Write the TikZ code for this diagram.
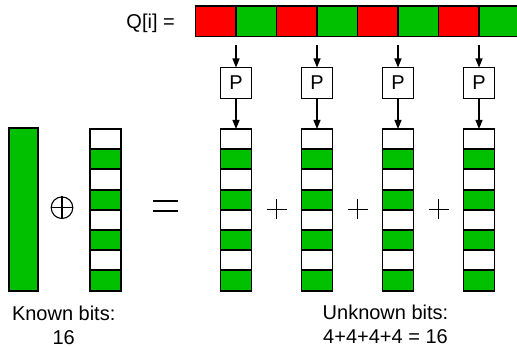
\documentclass[tikz,border=0pt]{standalone}
\usepackage{fontspec}
\setmainfont{Liberation Sans}
\usetikzlibrary{arrows.meta}
\definecolor{bitgreen}{RGB}{0,192,0}
\definecolor{bitred}{RGB}{255,0,0}
\begin{document}
\begin{tikzpicture}[x=1pt,y=-1pt,
 cell/.style={draw, line width=1.9pt, minimum width=31pt, minimum height=20.2pt, inner sep=0pt, outer sep=0pt},
 qcell/.style={draw, line width=1.9pt, minimum width=40.5pt, minimum height=30.5pt, inner sep=0pt, outer sep=0pt},
 pbox/.style={draw, line width=1.5pt, minimum size=31pt, inner sep=0pt, outer sep=0pt, font=\fontsize{20}{24}\selectfont},
 arr/.style={-{Triangle[length=9pt,width=7pt]}, line width=1.2pt},
 lbl/.style={font=\fontsize{20}{24}\selectfont, inner sep=0pt, align=center},
 op/.style={line width=1.1pt}]
\useasboundingbox (0,0) rectangle (517,347);
% Q[i] bar
\foreach \i/\c in {1/bitred,2/bitgreen,3/bitred,4/bitgreen,5/bitred,6/bitgreen,7/bitred,8/bitgreen}{
  \node[qcell, fill=\c] (q\i) at ({195.5+40.5*(\i-0.5)},21.25) {};
}
\node[lbl, anchor=base east] (qlabel) at (175,29) {Q[i] =};
% known bits bar
\node[draw, line width=1.7pt, fill=bitgreen, minimum width=29.6pt, minimum height=162.7pt, inner sep=0pt] (kb) at (23.5,209.7) {};
% left column
\foreach \j in {1,...,8}{
  \ifodd\j \def\cc{white}\else \def\cc{bitgreen}\fi
  \node[cell, fill=\cc] (m-\j) at (105.2,{129+20.2*(\j-0.5)}) {};
}
% right columns, P boxes, arrows
\foreach \k/\q in {1/1,2/3,3/5,4/7}{
  \foreach \j in {1,...,8}{
    \ifodd\j \def\cc{white}\else \def\cc{bitgreen}\fi
    \node[cell, fill=\cc] (c\k-\j) at ({236+81*(\k-1)},{129+20.2*(\j-0.5)}) {};
  }
  \node[pbox] (p\k) at ({236+81*(\k-1)},83) {P};
  \draw[arr, shorten <=8.5pt] (q\q.south east) -- (p\k.north);
  \draw[arr] (p\k.south) -- (c\k-1.north);
}
% operators
\node[circle, draw, op, minimum size=21.6pt, inner sep=0pt] (xor) at (62,207.7) {};
\draw[op] (xor.north) -- (xor.south);
\draw[op] (xor.west) -- (xor.east);
\draw[op] (153,201) -- (178,201);
\draw[op] (153,211) -- (178,211);
\foreach \k in {0,1,2}{
  \draw[op] ({276.6+81*\k-10},209.5) -- ({276.6+81*\k+10},209.5);
  \draw[op] ({276.6+81*\k},199.5) -- ({276.6+81*\k},219.5);
}
% labels
\node[lbl, anchor=north] (known) at (63.7,305.5) {Known bits:\\16};
\node[lbl, anchor=north] (unknown) at (385.5,305) {Unknown bits:\\4+4+4+4 = 16};
\end{tikzpicture}
\end{document}
